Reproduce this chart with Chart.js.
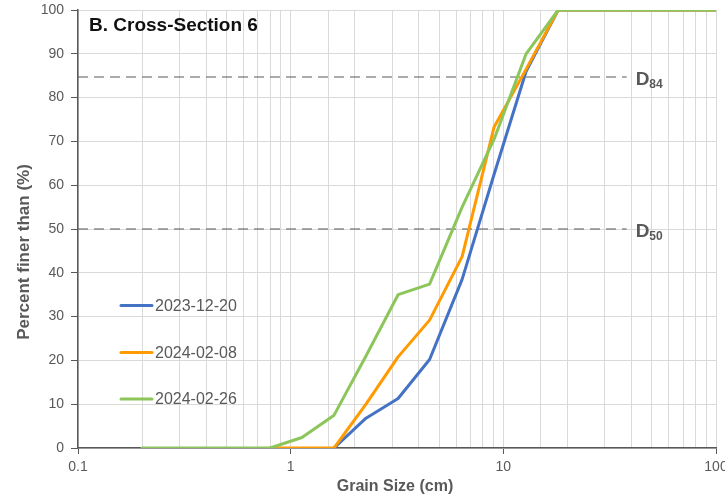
<!DOCTYPE html>
<html>
<head>
<meta charset="utf-8">
<script src="https://cdn.jsdelivr.net/npm/chart.js@4.4.1/dist/chart.umd.min.js"></script>
<style>
html,body{margin:0;padding:0;background:#fff;}
#wrap{width:725px;height:499px;position:relative;}
</style>
</head>
<body>
<div id="wrap"><canvas id="c" width="725" height="499"></canvas></div>
<script>
// ---- data ----
const seriesLabels = ['2023-12-20', '2024-02-08', '2024-02-26'];
const sizes1 = [1.6, 2.26, 3.2, 4.5, 6.4, 9.05, 12.8, 18.1, 100];
const values1 = [0, 6.8, 11.3, 20.2, 38.5, 62.5, 86, 100, 100];
const sizes2 = [0.8, 1.6, 2.26, 3.2, 4.5, 6.4, 9.05, 12.8, 18.1, 100];
const values2 = [0, 0, 10, 20.8, 29.2, 43.7, 73.3, 86.5, 100, 100];
const sizes3 = [0.2, 0.8, 1.13, 1.6, 2.26, 3.2, 4.5, 6.4, 9.05, 12.8, 18.1, 100];
const values3 = [0, 0, 2.4, 7.5, 21, 35, 37.4, 55, 70.5, 90, 100, 100];
const refLevels = [84.7, 50];
const refLabels = ['84', '50'];
const refRange = [0.1, 38];
const xTickLabels = [0.1, 1, 10, 100];
const yTicks = [0, 10, 20, 30, 40, 50, 60, 70, 80, 90, 100];

const colors = ['#4472C4', '#FF9A00', '#8CC65A'];
const GRAY = '#595959';

function pts(xs, ys) { return xs.map((x, i) => ({x: x, y: ys[i]})); }

const seriesData = [pts(sizes1, values1), pts(sizes2, values2), pts(sizes3, values3)];
const datasets = seriesData.map((d, i) => ({
  label: seriesLabels[i], data: d, borderColor: colors[i], backgroundColor: colors[i],
  borderWidth: 3, pointRadius: 0, tension: 0, fill: false,
  borderCapStyle: 'round', borderJoinStyle: 'round', order: 3 - i
}));
refLevels.forEach((lv, i) => {
  datasets.push({
    label: 'D' + refLabels[i], data: [{x: refRange[0], y: lv}, {x: refRange[1], y: lv}],
    borderColor: GRAY, borderWidth: 1.2, borderDash: [10, 6], pointRadius: 0, fill: false, order: 10
  });
});

const overlay = {
  id: 'overlay',
  afterDraw(chart) {
    const ctx = chart.ctx;
    const xs = chart.scales.x, ys = chart.scales.y;
    ctx.save();
    // title
    ctx.fillStyle = '#111';
    ctx.font = 'bold 19px "Liberation Sans", Arial, sans-serif';
    ctx.textAlign = 'left'; ctx.textBaseline = 'alphabetic';
    ctx.fillText('B. Cross-Section 6', 89, 31);
    // legend
    const legY = [305.5, 352.5, 399];
    ctx.font = '16px "Liberation Sans", Arial, sans-serif';
    ctx.textBaseline = 'middle';
    for (let i = 0; i < 3; i++) {
      ctx.strokeStyle = colors[i]; ctx.lineWidth = 3; ctx.lineCap = 'round';
      ctx.beginPath(); ctx.moveTo(121, legY[i]); ctx.lineTo(152, legY[i]); ctx.stroke();
      ctx.fillStyle = GRAY;
      ctx.fillText(seriesLabels[i], 155, legY[i] + 1);
    }
    // D labels
    refLevels.forEach((lv, i) => {
      const y = ys.getPixelForValue(lv);
      const x = xs.getPixelForValue(refRange[1]) + 9;
      ctx.fillStyle = GRAY;
      ctx.textBaseline = 'alphabetic';
      ctx.font = 'bold 19px "Liberation Sans", Arial, sans-serif';
      ctx.fillText('D', x, y + 8);
      const w = ctx.measureText('D').width;
      ctx.font = 'bold 12px "Liberation Sans", Arial, sans-serif';
      ctx.fillText(refLabels[i], x + w, y + 11);
    });
    // axis titles
    ctx.fillStyle = GRAY;
    ctx.font = 'bold 16px "Liberation Sans", Arial, sans-serif';
    ctx.textAlign = 'center'; ctx.textBaseline = 'middle';
    ctx.fillText('Grain Size (cm)', 395, 487);
    ctx.font = 'bold 17px "Liberation Sans", Arial, sans-serif';
    ctx.translate(24, 252);
    ctx.rotate(-Math.PI / 2);
    ctx.fillText('Percent finer than (%)', 0, 0);
    ctx.restore();
  }
};

new Chart(document.getElementById('c'), {
  type: 'line',
  data: {datasets: datasets},
  options: {
    responsive: false, animation: false, maintainAspectRatio: false,
    layout: {padding: {top: 10, right: 9, left: 0, bottom: 0}},
    plugins: {legend: {display: false}, tooltip: {enabled: false}, title: {display: false}},
    scales: {
      x: {
        type: 'logarithmic', min: 0.1, max: 100,
        border: {color: GRAY, width: 1.5},
        grid: {
          color: '#d9d9d9', lineWidth: 1, drawTicks: true, tickLength: 6,
          tickColor: (c) => (c.tick && xTickLabels.some(v => Math.abs(v - c.tick.value) < 1e-9)) ? GRAY : 'rgba(0,0,0,0)'
        },
        ticks: {
          autoSkip: false, maxRotation: 0, padding: 5, color: GRAY,
          font: {size: 14, family: '"Liberation Sans", Arial, sans-serif'},
          callback: (v) => {
            const m = xTickLabels.find(t => Math.abs(t - v) < 1e-9);
            return m !== undefined ? String(m) : '';
          }
        },
        afterFit: (s) => { s.height = 51; s.paddingLeft = 0; s.paddingRight = 0; }
      },
      y: {
        type: 'linear', min: 0, max: 100,
        border: {color: GRAY, width: 1.5},
        grid: {color: '#d9d9d9', lineWidth: 1, tickLength: 7, tickColor: GRAY},
        afterBuildTicks: (s) => { s.ticks = yTicks.map(v => ({value: v})); },
        ticks: {
          padding: 7, color: GRAY,
          font: {size: 14, family: '"Liberation Sans", Arial, sans-serif'}
        },
        afterFit: (s) => { s.width = 78; s.paddingTop = 0; s.paddingBottom = 0; }
      }
    }
  },
  plugins: [overlay]
});
</script>
</body>
</html>
